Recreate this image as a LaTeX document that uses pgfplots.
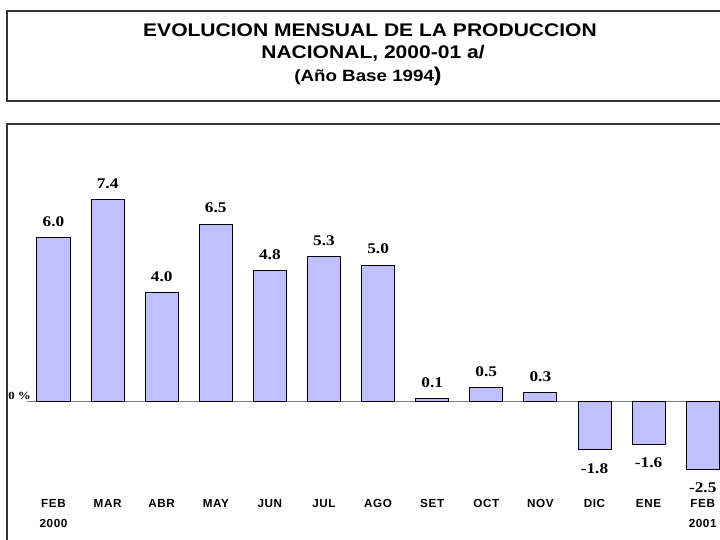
\documentclass[border=0pt]{standalone}
\usepackage{fontspec}
\usepackage{pgfplots}
\pgfplotsset{compat=1.18}
\setmainfont{Liberation Sans}
\newfontfamily\titlefont{Liberation Sans}[FakeStretch=1.15]
\newfontfamily\valfont{Liberation Serif}[FakeStretch=1.17]
\newfontfamily\catfont{Liberation Sans}[LetterSpace=5]
\definecolor{barfill}{RGB}{192,192,255}
\begin{document}
\begin{tikzpicture}[x=1pt,y=1pt]
\useasboundingbox (0,0) rectangle (720,539);
% title box
\draw[black!80, line width=1.2pt] (7,438) rectangle (733,528);
\node[anchor=base, inner sep=0, font=\titlefont\bfseries\fontsize{18.3}{20}\selectfont] at (370,502.7) {EVOLUCION MENSUAL DE LA PRODUCCION};
\node[anchor=base, inner sep=0, font=\titlefont\bfseries\fontsize{18.3}{20}\selectfont] at (373,480.2) {NACIONAL, 2000-01 a/};
\node[anchor=base, inner sep=0, font=\titlefont\bfseries\fontsize{16.3}{18}\selectfont] at (368,457.5) {(Año Base 1994{\fontsize{20}{21}\selectfont)}};
\begin{axis}[
  at={(7pt,-6pt)}, anchor=south west,
  scale only axis, width=726pt, height=421pt,
  xmin=-0.8595, xmax=12.56, ymin=-5.294, ymax=10.184,
  axis line style={black!80, line width=1.2pt},
  ytick=\empty,
  xtick={0,...,12},
  xticklabels={FEB\\2000,MAR,ABR,MAY,JUN,JUL,AGO,SET,OCT,NOV,DIC,ENE,FEB\\2001},
  major tick length=0pt,
  xticklabel style={anchor=north, inner sep=0pt, yshift=45.5pt, align=center,
    font=\catfont\bfseries\fontsize{11.7}{20}\selectfont},
  clip=false,
  ybar, bar width=33pt, bar shift=0pt,
  visualization depends on={rawy \as \rawy},
  nodes near coords={\pgfmathprintnumber[fixed,fixed zerofill,precision=1,assume math mode=true]{\pgfplotspointmeta}},
  every node near coord/.append style={font=\valfont\bfseries\fontsize{14.8}{16}\selectfont,
    anchor=center, inner sep=0pt, yshift={(\rawy<0)*(-34.5)+16}},
]
\draw[gray, line width=1pt] (axis cs:-0.49,0) -- (axis cs:12.56,0);
\addplot[fill=barfill, draw=black, line width=1pt] coordinates {
(0,6.0) (1,7.4) (2,4.0) (3,6.5) (4,4.8) (5,5.3) (6,5.0) (7,0.1) (8,0.5) (9,0.3) (10,-1.8) (11,-1.6) (12,-2.5)};
\node[anchor=base east, inner sep=0pt, font=\valfont\bfseries\fontsize{11}{12}\selectfont, xshift=4pt, yshift=2pt] at (axis cs:-0.49,0) {0 \%};
\end{axis}
\end{tikzpicture}
\end{document}
